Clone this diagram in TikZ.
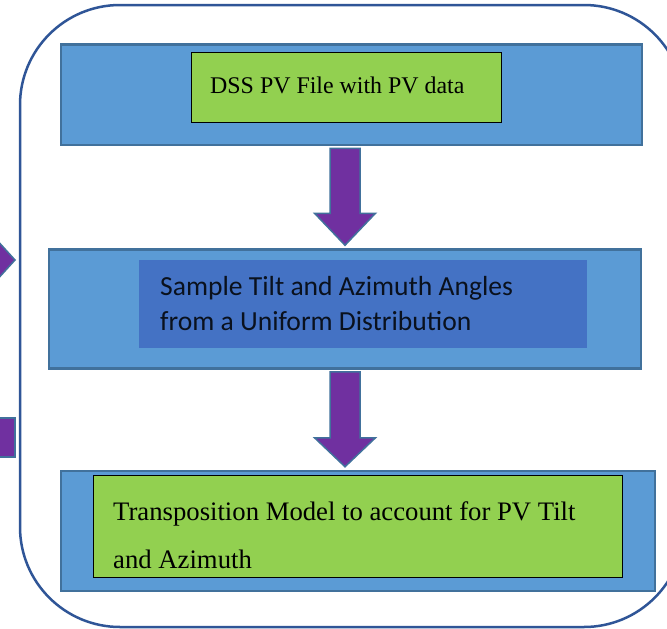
\documentclass[tikz,border=0pt]{standalone}
\usepackage{fontspec}
\setmainfont{Liberation Serif}
\newfontfamily\calibrifont{Carlito}
\usetikzlibrary{calc}
\definecolor{boxblue}{HTML}{5B9BD5}
\definecolor{boxedge}{HTML}{41719C}
\definecolor{darkblue}{HTML}{4472C4}
\definecolor{lgreen}{HTML}{92D050}
\definecolor{purp}{HTML}{7030A0}
\definecolor{framec}{HTML}{2F5597}
\begin{document}
\begin{tikzpicture}[x=1pt,y=-1pt,
  outerbox/.style={draw=boxedge, fill=boxblue, line width=2.5pt, inner sep=0pt},
  greenbox/.style={draw=black, fill=lgreen, line width=1pt, inner sep=0pt},
  darkbox/.style={fill=darkblue, inner sep=0pt},
  arrowshape/.style={fill=purp, draw=boxedge, line width=1.5pt, line join=miter},
  seriftext/.style={font=\fontsize{23.9}{23.9}\selectfont, anchor=base west, inner sep=0pt},
  seriftextl/.style={font=\fontsize{26.7}{26.7}\selectfont, anchor=base west, inner sep=0pt},
  sanstext/.style={font=\calibrifont\fontsize{27.6}{27.6}\selectfont, anchor=base west, inner sep=0pt, text=black!85!darkblue},
  framestyle/.style={draw=framec, line width=2.5pt, rounded corners=100pt}]
\useasboundingbox (0,0) rectangle (667,629);
\clip (0,0) rectangle (667,629);
\fill[white] (0,0) rectangle (667,629);

% outer rounded frame
\draw[framestyle] (20,5) rectangle (684,627);

% left cropped fragments
\draw[arrowshape] (-5,238) -- (15,260) -- (-5,282) -- cycle;
\draw[arrowshape] (-5,418) rectangle (15,457);

% boxes
\node[outerbox, minimum width=581pt, minimum height=100.5pt] (b1) at (351.5,94.75) {};
\node[greenbox, minimum width=310pt, minimum height=70pt] (g1) at (346,87) {};
\node[seriftext] (t1) at (210,93) {DSS PV File with PV data};

\node[outerbox, minimum width=592pt, minimum height=119pt] (b2) at (345,309) {};
\node[darkbox, minimum width=448pt, minimum height=88pt] (d2) at (363,304) {};
\node[sanstext] (t2a) at (160,295) {Sample Tilt and Azimuth Angles};
\node[sanstext] (t2b) at (160,330) {from a Uniform Distribution};

\node[outerbox, minimum width=594pt, minimum height=120pt] (b3) at (358,531) {};
\node[greenbox, minimum width=529pt, minimum height=102pt] (g3) at (357.5,526) {};
\node[seriftextl] (t3a) at (113,520.5) {Transposition Model to account for PV Tilt};
\node[seriftextl] (t3b) at (113,568) {and Azimuth};

% arrows
\draw[arrowshape] ($(b2.north |- b1.south)+(-15,2)$) -- ($(b2.north |- b1.south)+(15,2)$)
  -- ($(b2.north)+(15,-35)$) -- ($(b2.north)+(30.5,-35)$) -- ($(b2.north)+(0,-3)$)
  -- ($(b2.north)+(-30.5,-35)$) -- ($(b2.north)+(-15,-35)$) -- cycle;
\draw[arrowshape] ($(b2.south)+(-15,2)$) -- ($(b2.south)+(15,2)$)
  -- ($(b2.south |- b3.north)+(15,-32)$) -- ($(b2.south |- b3.north)+(30.5,-32)$) -- ($(b2.south |- b3.north)+(0,-3)$)
  -- ($(b2.south |- b3.north)+(-30.5,-32)$) -- ($(b2.south |- b3.north)+(-15,-32)$) -- cycle;
\end{tikzpicture}
\end{document}
